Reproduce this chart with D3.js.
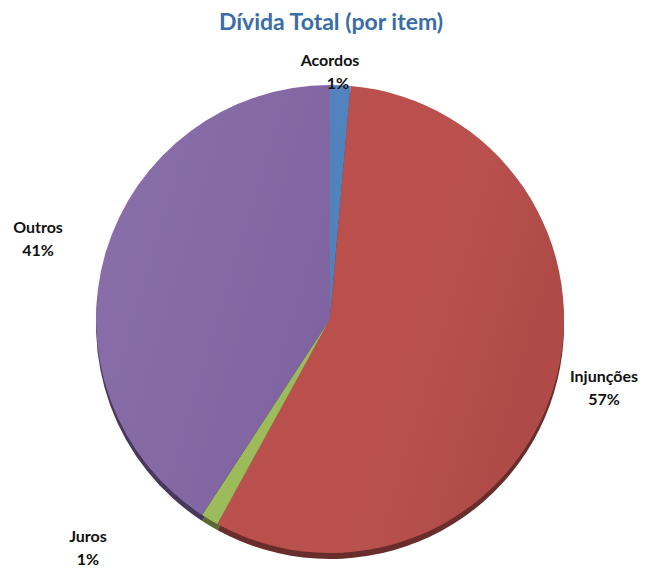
<!DOCTYPE html>
<html>
<head>
<meta charset="utf-8">
<script src="https://cdn.jsdelivr.net/npm/d3@7"></script>
<style>
  body { margin: 0; background: #fff; }
  svg { display: block; }
  text { font-family: Lato, "Open Sans", sans-serif; }
</style>
</head>
<body>
<div id="chart"></div>
<script>
// data
const categories = ["Acordos", "Injunções", "Juros", "Outros"];
const shares = [1.4, 56.6, 1.2, 40.8];
const sliceColors = ["#4F81BD", "#BA4F4C", "#9BBB59", "#8064A2"];

const width = 646, height = 570;
const cx = 330, cy = 319, r = 234;

const svg = d3.select("#chart").append("svg")
    .attr("width", width)
    .attr("height", height);

const defs = svg.append("defs");
const shade = defs.append("linearGradient")
    .attr("id", "shade")
    .attr("x1", "0").attr("y1", "0").attr("x2", "1").attr("y2", "0.3");
shade.append("stop").attr("offset", "0%").attr("stop-color", "#fff").attr("stop-opacity", 0.08);
shade.append("stop").attr("offset", "60%").attr("stop-color", "#fff").attr("stop-opacity", 0);
shade.append("stop").attr("offset", "100%").attr("stop-color", "#000").attr("stop-opacity", 0.06);

// title
svg.append("text")
    .attr("x", 331)
    .attr("y", 30)
    .attr("text-anchor", "middle")
    .attr("font-size", 23)
    .attr("font-weight", "bold")
    .attr("fill", "#3A6DA6")
    .text("Dívida Total (por item)");

const pie = d3.pie().sort(null).value(d => d.value);
const data = pie(categories.map((c, i) => ({name: c, value: shares[i], color: sliceColors[i]})));
const arc = d3.arc().innerRadius(0).outerRadius(r);

const g = svg.append("g").attr("transform", `translate(${cx},${cy})`);

// thin 3D edge underneath
g.append("g")
    .attr("transform", "translate(0,6)")
    .selectAll("path")
    .data(data)
    .join("path")
    .attr("d", arc)
    .attr("fill", d => d3.color(d.data.color).darker(1.6));

g.selectAll(".slice")
    .data(data)
    .join("path")
    .attr("class", "slice")
    .attr("d", arc)
    .attr("fill", d => d.data.color);

g.append("circle")
    .attr("r", r)
    .attr("fill", "url(#shade)");

// labels (Excel pushes the small Juros label out to the bottom left)
const labelPos = {
    "Acordos": [0, -253],
    "Injunções": [274, 63],
    "Outros": [-292, -86],
    "Juros": [-242, 223]
};
const fmt = v => Math.round(v) + "%";
const labels = g.selectAll(".lbl")
    .data(data)
    .join("text")
    .attr("class", "lbl")
    .attr("text-anchor", "middle")
    .attr("font-size", 16)
    .attr("font-weight", "bold")
    .attr("fill", "#111")
    .attr("transform", d => `translate(${labelPos[d.data.name]})`);
labels.append("tspan").attr("x", 0).attr("dy", 0).text(d => d.data.name);
labels.append("tspan").attr("x", d => d.data.name === "Acordos" ? 8 : 0).attr("dy", 23).text(d => fmt(d.data.value));
</script>
</body>
</html>
